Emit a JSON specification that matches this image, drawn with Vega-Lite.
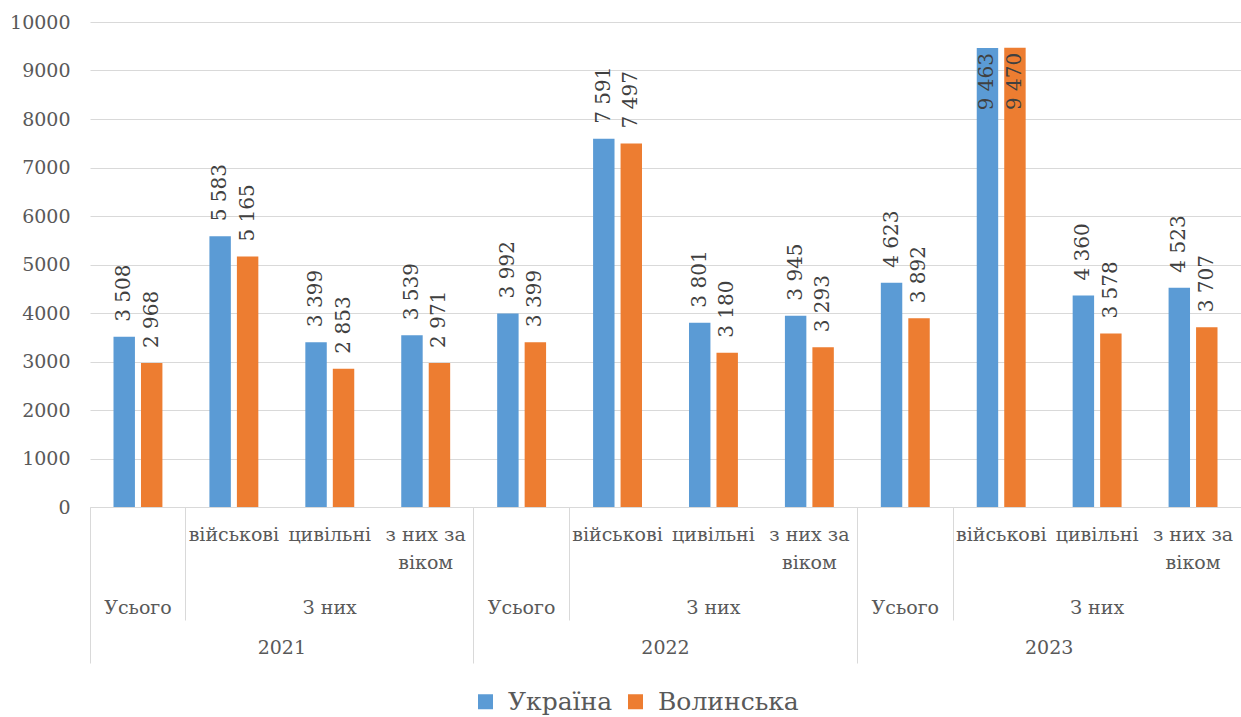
{
  "$schema": "https://vega.github.io/schema/vega-lite/v6.json",
  "width": 1151,
  "height": 485,
  "autosize": "none",
  "padding": {"left": 90, "top": 22, "right": 0, "bottom": 210},
  "background": "white",
  "config": {
    "locale": {"number": {"decimal": ",", "thousands": " ", "grouping": [3], "currency": ["", ""]}},
    "view": {"stroke": null},
    "font": "DejaVu Serif",
    "legend": {"padding": 0},
    "axis": {
      "labelFont": "DejaVu Serif",
      "labelFontSize": 19,
      "labelColor": "#595959",
      "domainColor": "#d9d9d9",
      "tickColor": "#d9d9d9",
      "gridColor": "#d9d9d9",
      "title": null
    }
  },
  "data": {
    "values": [
      {"year": "2021", "cat": "2021/Усього", "series": "Україна", "value": 3508},
      {"year": "2021", "cat": "2021/Усього", "series": "Волинська", "value": 2968},
      {"year": "2021", "cat": "2021/військові", "series": "Україна", "value": 5583},
      {"year": "2021", "cat": "2021/військові", "series": "Волинська", "value": 5165},
      {"year": "2021", "cat": "2021/цивільні", "series": "Україна", "value": 3399},
      {"year": "2021", "cat": "2021/цивільні", "series": "Волинська", "value": 2853},
      {"year": "2021", "cat": "2021/з них за віком", "series": "Україна", "value": 3539},
      {"year": "2021", "cat": "2021/з них за віком", "series": "Волинська", "value": 2971},
      {"year": "2022", "cat": "2022/Усього", "series": "Україна", "value": 3992},
      {"year": "2022", "cat": "2022/Усього", "series": "Волинська", "value": 3399},
      {"year": "2022", "cat": "2022/військові", "series": "Україна", "value": 7591},
      {"year": "2022", "cat": "2022/військові", "series": "Волинська", "value": 7497},
      {"year": "2022", "cat": "2022/цивільні", "series": "Україна", "value": 3801},
      {"year": "2022", "cat": "2022/цивільні", "series": "Волинська", "value": 3180},
      {"year": "2022", "cat": "2022/з них за віком", "series": "Україна", "value": 3945},
      {"year": "2022", "cat": "2022/з них за віком", "series": "Волинська", "value": 3293},
      {"year": "2023", "cat": "2023/Усього", "series": "Україна", "value": 4623},
      {"year": "2023", "cat": "2023/Усього", "series": "Волинська", "value": 3892},
      {"year": "2023", "cat": "2023/військові", "series": "Україна", "value": 9463},
      {"year": "2023", "cat": "2023/військові", "series": "Волинська", "value": 9470},
      {"year": "2023", "cat": "2023/цивільні", "series": "Україна", "value": 4360},
      {"year": "2023", "cat": "2023/цивільні", "series": "Волинська", "value": 3578},
      {"year": "2023", "cat": "2023/з них за віком", "series": "Україна", "value": 4523},
      {"year": "2023", "cat": "2023/з них за віком", "series": "Волинська", "value": 3707}
    ]
  },
  "layer": [
    {
      "encoding": {
        "x": {
          "field": "cat",
          "type": "nominal",
          "sort": null,
          "scale": {"paddingInner": 0.49, "paddingOuter": 0.245},
          "axis": {
            "orient": "bottom",
            "title": null,
            "ticks": false,
            "grid": false,
            "domain": true,
            "labelAngle": 0,
            "labelPadding": 18,
            "labelLineHeight": 28,
            "labelBaseline": "top",
            "labelExpr": "indexof(datum.label,'Усього')>=0 ? '' : indexof(datum.label,'за віком')>=0 ? ['з них за','віком'] : split(datum.label,'/')[1]"
          }
        },
        "xOffset": {
          "field": "series",
          "type": "nominal",
          "scale": {"domain": ["Україна", "Волинська"], "paddingInner": 0.22}
        },
        "y": {
          "field": "value",
          "type": "quantitative",
          "scale": {"domain": [0, 10000]},
          "axis": {
            "title": null,
            "values": [0, 1000, 2000, 3000, 4000, 5000, 6000, 7000, 8000, 9000, 10000],
            "format": "d",
            "domain": false,
            "ticks": false,
            "grid": true,
            "labelPadding": 20
          }
        }
      },
      "layer": [
        {
          "mark": {"type": "bar"},
          "encoding": {
            "color": {
              "field": "series",
              "type": "nominal",
              "scale": {"domain": ["Україна", "Волинська"], "range": ["#5b9bd5", "#ed7d31"]},
              "legend": {
                "orient": "none",
                "legendX": 383,
                "legendY": 667,
                "direction": "horizontal",
                "title": null,
                "symbolType": "square",
                "symbolSize": 225,
                "symbolStrokeWidth": 0,
                "labelFont": "DejaVu Serif",
                "labelFontSize": 25,
                "labelColor": "#595959",
                "labelOffset": 10,
                "columnSpacing": 36
              }
            }
          }
        },
        {
          "transform": [{"filter": "datum.value < 9000"}],
          "mark": {"type": "text", "angle": 270, "align": "left", "baseline": "middle", "dx": 15, "fontSize": 20, "font": "DejaVu Serif", "color": "#404040"},
          "encoding": {"text": {"field": "value", "type": "quantitative", "format": ",d"}}
        },
        {
          "transform": [{"filter": "datum.value >= 9000"}],
          "mark": {"type": "text", "angle": 270, "align": "right", "baseline": "middle", "dx": -5, "fontSize": 20, "font": "DejaVu Serif", "color": "#404040"},
          "encoding": {"text": {"field": "value", "type": "quantitative", "format": ",d"}}
        }
      ]
    },
    {
      "mark": {"type": "bar", "opacity": 0},
      "encoding": {
        "x": {
          "field": "cat",
          "type": "nominal",
          "sort": null,
          "scale": {"paddingInner": 0, "paddingOuter": 0},
          "axis": {
            "orient": "bottom",
            "title": null,
            "grid": false,
            "domain": false,
            "ticks": true,
            "bandPosition": 0,
            "tickSize": 113,
            "tickWidth": 1,
            "tickOpacity": {"condition": {"test": "indexof(datum.value,'військові')>=0", "value": 1}, "value": 0},
            "labelAngle": 0,
            "labelBaseline": "top",
            "labelPadding": -22,
            "labelExpr": "indexof(datum.label,'Усього')>=0 ? 'Усього' : indexof(datum.label,'цивільні')>=0 ? 'З них' : ''"
          }
        }
      }
    },
    {
      "mark": {"type": "bar", "opacity": 0},
      "encoding": {
        "x": {
          "field": "year",
          "type": "nominal",
          "sort": null,
          "scale": {"paddingInner": 0, "paddingOuter": 0},
          "axis": {
            "orient": "bottom",
            "title": null,
            "grid": false,
            "domain": false,
            "ticks": true,
            "bandPosition": 0,
            "tickSize": 156,
            "tickWidth": 1,
            "labelAngle": 0,
            "labelBaseline": "top",
            "labelPadding": -25
          }
        }
      }
    }
  ],
  "resolve": {"scale": {"x": "independent"}}
}
